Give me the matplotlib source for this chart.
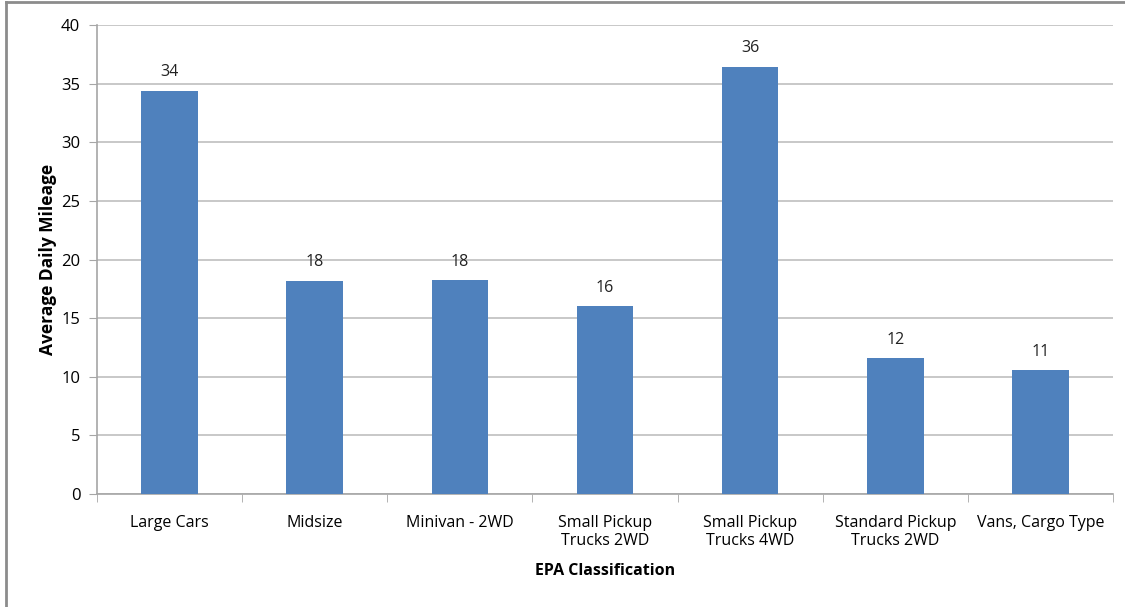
import matplotlib.pyplot as plt
import numpy as np
from matplotlib.lines import Line2D

categories = ['Large Cars', 'Midsize', 'Minivan - 2WD', 'Small Pickup\nTrucks 2WD',
              'Small Pickup\nTrucks 4WD', 'Standard Pickup\nTrucks 2WD', 'Vans, Cargo Type']
mileage = [34.37, 18.17, 18.25, 16.03, 36.42, 11.6, 10.55]

plt.rcParams['font.family'] = ['Open Sans', 'DejaVu Sans']

fig = plt.figure(figsize=(11.25, 6.07), dpi=100)
ax = fig.add_axes([0.0862, 0.186, 0.9031, 0.7728])

x = np.arange(len(categories))
ax.bar(x, mileage, width=0.39, color='#4F81BD', zorder=3)
for xi, v in zip(x, mileage):
    ax.text(xi, v + 0.9, '%d' % int(v + 0.5), ha='center', va='bottom', fontsize=11.5, color='#222222')

ax.set_xlim(-0.5, len(categories) - 0.5)
ax.set_ylim(0, 40)
ax.set_yticks(np.arange(0, 41, 5))
ax.yaxis.grid(True, color='#BFBFBF', linewidth=1.2, zorder=0)

ax.set_xticks(x)
ax.set_xticklabels(categories, fontsize=11.5, linespacing=1.15)
ax.set_xticks(np.arange(-0.5, len(categories)), minor=True)
ax.tick_params(axis='x', which='major', length=0, pad=15)
ax.tick_params(axis='x', which='minor', length=6, color='#A6A6A6', direction='out')
ax.tick_params(axis='y', length=6, color='#A6A6A6', labelsize=12, pad=6)

for s in ['top', 'right']:
    ax.spines[s].set_visible(False)
for s in ['left', 'bottom']:
    ax.spines[s].set_color('#A6A6A6')
    ax.spines[s].set_linewidth(1.2)

ax.set_xlabel('EPA Classification', fontsize=11.5, fontweight='bold', labelpad=10)
ax.set_ylabel('Average Daily Mileage', fontsize=12.5, fontweight='bold', labelpad=3)

# outer frame edges
fig.add_artist(Line2D([0.005, 0.005], [0, 0.997], color='#8C8C8C', linewidth=2, transform=fig.transFigure))
fig.add_artist(Line2D([0.005, 1], [0.997, 0.997], color='#8C8C8C', linewidth=2, transform=fig.transFigure))

fig.savefig('out.png', dpi=100)
